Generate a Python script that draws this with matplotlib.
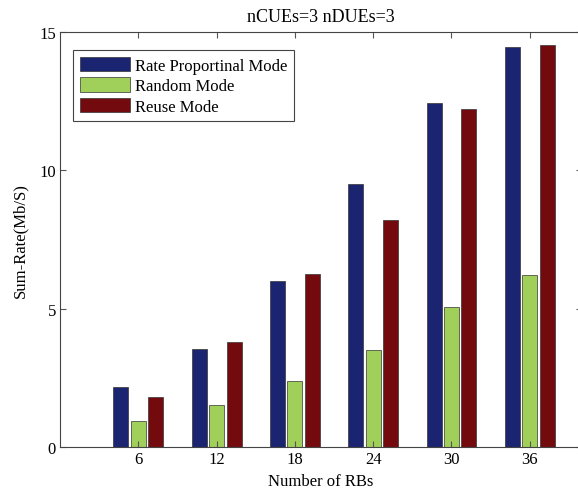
import numpy as np
import matplotlib.pyplot as plt

plt.rcParams['font.family'] = ['Liberation Serif', 'DejaVu Serif']

# data
rbs = [6, 12, 18, 24, 30, 36]
rate_prop = [2.17, 3.54, 5.99, 9.52, 12.43, 14.46]
random_mode = [0.95, 1.53, 2.40, 3.51, 5.07, 6.23]
reuse_mode = [1.80, 3.81, 6.24, 8.20, 12.22, 14.53]
series_names = ['Rate Proportinal Mode', 'Random Mode', 'Reuse Mode']

COLORS = ['#1b2470', '#a0d05a', '#730b0e']

fig = plt.figure(figsize=(5.78, 4.89), dpi=100)
ax = fig.add_axes([60 / 578, 41 / 489, 522 / 578, 415 / 489])

x = np.array(rbs, dtype=float)
offset = 1.34
width = 1.15
for i, (vals, name) in enumerate(zip([rate_prop, random_mode, reuse_mode], series_names)):
    ax.bar(x + (i - 1) * offset, vals, width=width, color=COLORS[i],
           edgecolor='#333333', linewidth=0.5, label=name)

ax.set_xlim(0, 40)
ax.set_ylim(0, 15)
ax.set_xticks(rbs)
ax.set_yticks([0, 5, 10, 15])
ax.tick_params(direction='in', top=True, right=True, labelsize=12, length=4,
               color='#555555', width=0.8, pad=3)
for s in ax.spines.values():
    s.set_color('#444444')
    s.set_linewidth(0.8)

ax.set_title('nCUEs=3 nDUEs=3', fontsize=13, pad=8)
ax.set_xlabel('Number of RBs', fontsize=12, labelpad=4)
ax.set_ylabel('Sum-Rate(Mb/S)', fontsize=12, labelpad=8)

leg = ax.legend(loc='upper left', bbox_to_anchor=(0.025, 0.957), borderaxespad=0,
                fontsize=12, handlelength=3.0, handleheight=1.0, handletextpad=0.3,
                labelspacing=0.2, borderpad=0.4, fancybox=False, framealpha=1)
leg.get_frame().set_edgecolor('#444444')
leg.get_frame().set_linewidth(0.8)

fig.savefig('out.png', dpi=100)
